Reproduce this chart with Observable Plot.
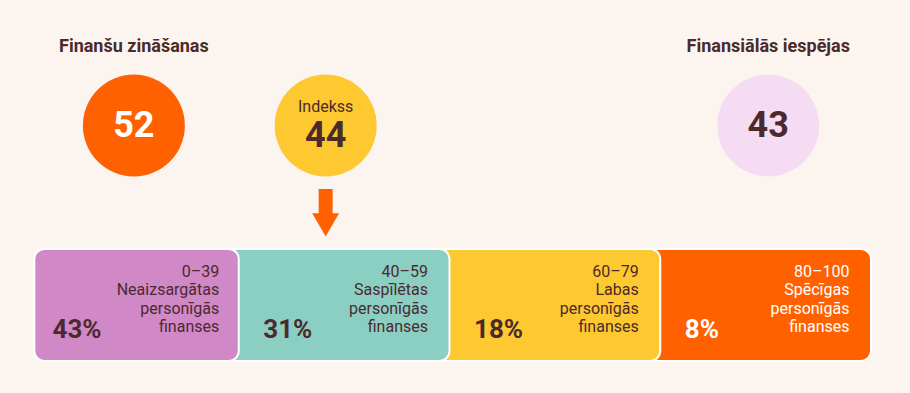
<!DOCTYPE html>
<html><head><meta charset="utf-8">
<script src="https://cdn.jsdelivr.net/npm/d3@7"></script>
<script src="https://cdn.jsdelivr.net/npm/@observablehq/plot@0.6"></script>
<style>
html,body{margin:0;padding:0;background:#fcf5ef;}
#chart svg{display:block;}
</style>
</head><body><div id="chart"></div>
<script>
// ---- data ----
const segmentRanges = ["0–39", "40–59", "60–79", "80–100"];
const segmentNames = ["Neaizsargātas", "Saspīlētas", "Labas", "Spēcīgas"];
const segmentSuffix = ["personīgās", "finanses"];
const segmentShares = [43, 31, 18, 8];
const scoreTitles = ["Finanšu zināšanas", "", "Finansiālās iespējas"];
const scoreCaptions = ["", "Indekss", ""];
const scoreValues = [52, 44, 43];

// ---- styles / layout ----
const dark = "#4b2a2d";
const segColors = ["#d088c6", "#8bcfc3", "#fdc830", "#ff6100"];
const segTextColors = [dark, dark, dark, "#ffffff"];
const circleFills = ["#ff6100", "#fdc830", "#f6dcf3"];
const circleTextColors = ["#ffffff", dark, dark];
const circleCols = [0.5, 1.41, 3.51];
const boxTop = 249, boxBottom = 361;
const firstLineY = 271, lineStep = 18.6;

const segs = segmentRanges.map((r, i) => ({
  i, range: r, name: segmentNames[i], share: segmentShares[i],
  fill: segColors[i], tc: segTextColors[i]
}));
const segsDrawOrder = segs.slice().reverse();
const lines = segs.flatMap(s =>
  [s.range, s.name, ...segmentSuffix].map((t, k) => ({i: s.i, k, t, tc: s.tc}))
);
const scores = scoreValues.map((v, j) => ({
  j, v, title: scoreTitles[j], cap: scoreCaptions[j],
  col: circleCols[j], fill: circleFills[j], tc: circleTextColors[j]
}));
const indexScore = scores.filter(d => d.cap !== "");

const chart = Plot.plot({
  width: 910,
  height: 393,
  marginLeft: 28,
  marginRight: 39,
  marginTop: 0,
  marginBottom: 0,
  style: {background: "transparent", fontFamily: "Roboto, 'Noto Sans', sans-serif"},
  x: {domain: [0, 4], axis: null},
  y: {domain: [0, 393], range: [0, 393], axis: null},
  marks: [
    // segment boxes (drawn right to left so each rounded right edge overlaps the next)
    Plot.rect(segsDrawOrder, {
      x1: d => d.i === 0 ? 0.03 : d.i - 0.06,
      x2: d => d.i + 1,
      y1: boxTop, y2: boxBottom,
      fill: "fill", stroke: "#ffffff", strokeWidth: 2, rx: 10
    }),
    Plot.text(segs, {
      x: "i", y: 329, dx: 24, text: d => d.share + "%",
      fill: "tc", textAnchor: "start", lineAnchor: "middle",
      fontSize: 26, fontWeight: 700
    }),
    Plot.text(lines.filter(d => d.i === 0), {
      x: d => d.i + 1, y: d => firstLineY + d.k * lineStep, dx: -20,
      text: "t", fill: "tc", textAnchor: "end", lineAnchor: "middle",
      fontSize: 16, fontWeight: 400
    }),
    Plot.text(lines.filter(d => d.i > 0), {
      x: d => d.i + 1, y: d => firstLineY + d.k * lineStep, dx: -22,
      text: "t", fill: "tc", textAnchor: "end", lineAnchor: "middle",
      fontSize: 16, fontWeight: d => d.i === 3 ? 500 : 400
    }),
    // circles
    Plot.dot(scores, {x: "col", y: 125, r: 51, fill: "fill", stroke: null}),
    Plot.text(scores, {
      x: "col", y: 46, text: "title", fill: dark,
      fontSize: 18, fontWeight: 700, lineAnchor: "middle"
    }),
    Plot.text(scores, {
      x: "col", y: d => d.cap ? 135 : 125, text: d => String(d.v), fill: "tc",
      fontSize: 36, fontWeight: 700, lineAnchor: "middle"
    }),
    Plot.text(indexScore, {
      x: "col", y: 106, text: "cap", fill: dark,
      fontSize: 16, fontWeight: 400, lineAnchor: "middle"
    }),
    // arrow
    Plot.ruleX(indexScore, {x: "col", y1: 189, y2: 215, stroke: "#ff6100", strokeWidth: 14}),
    Plot.dot(indexScore, {
      x: "col", y: 220.5, symbol: "triangle", r: 10, rotate: 180,
      fill: "#ff6100", stroke: null
    })
  ]
});
document.getElementById("chart").append(chart);
</script>
</body></html>
